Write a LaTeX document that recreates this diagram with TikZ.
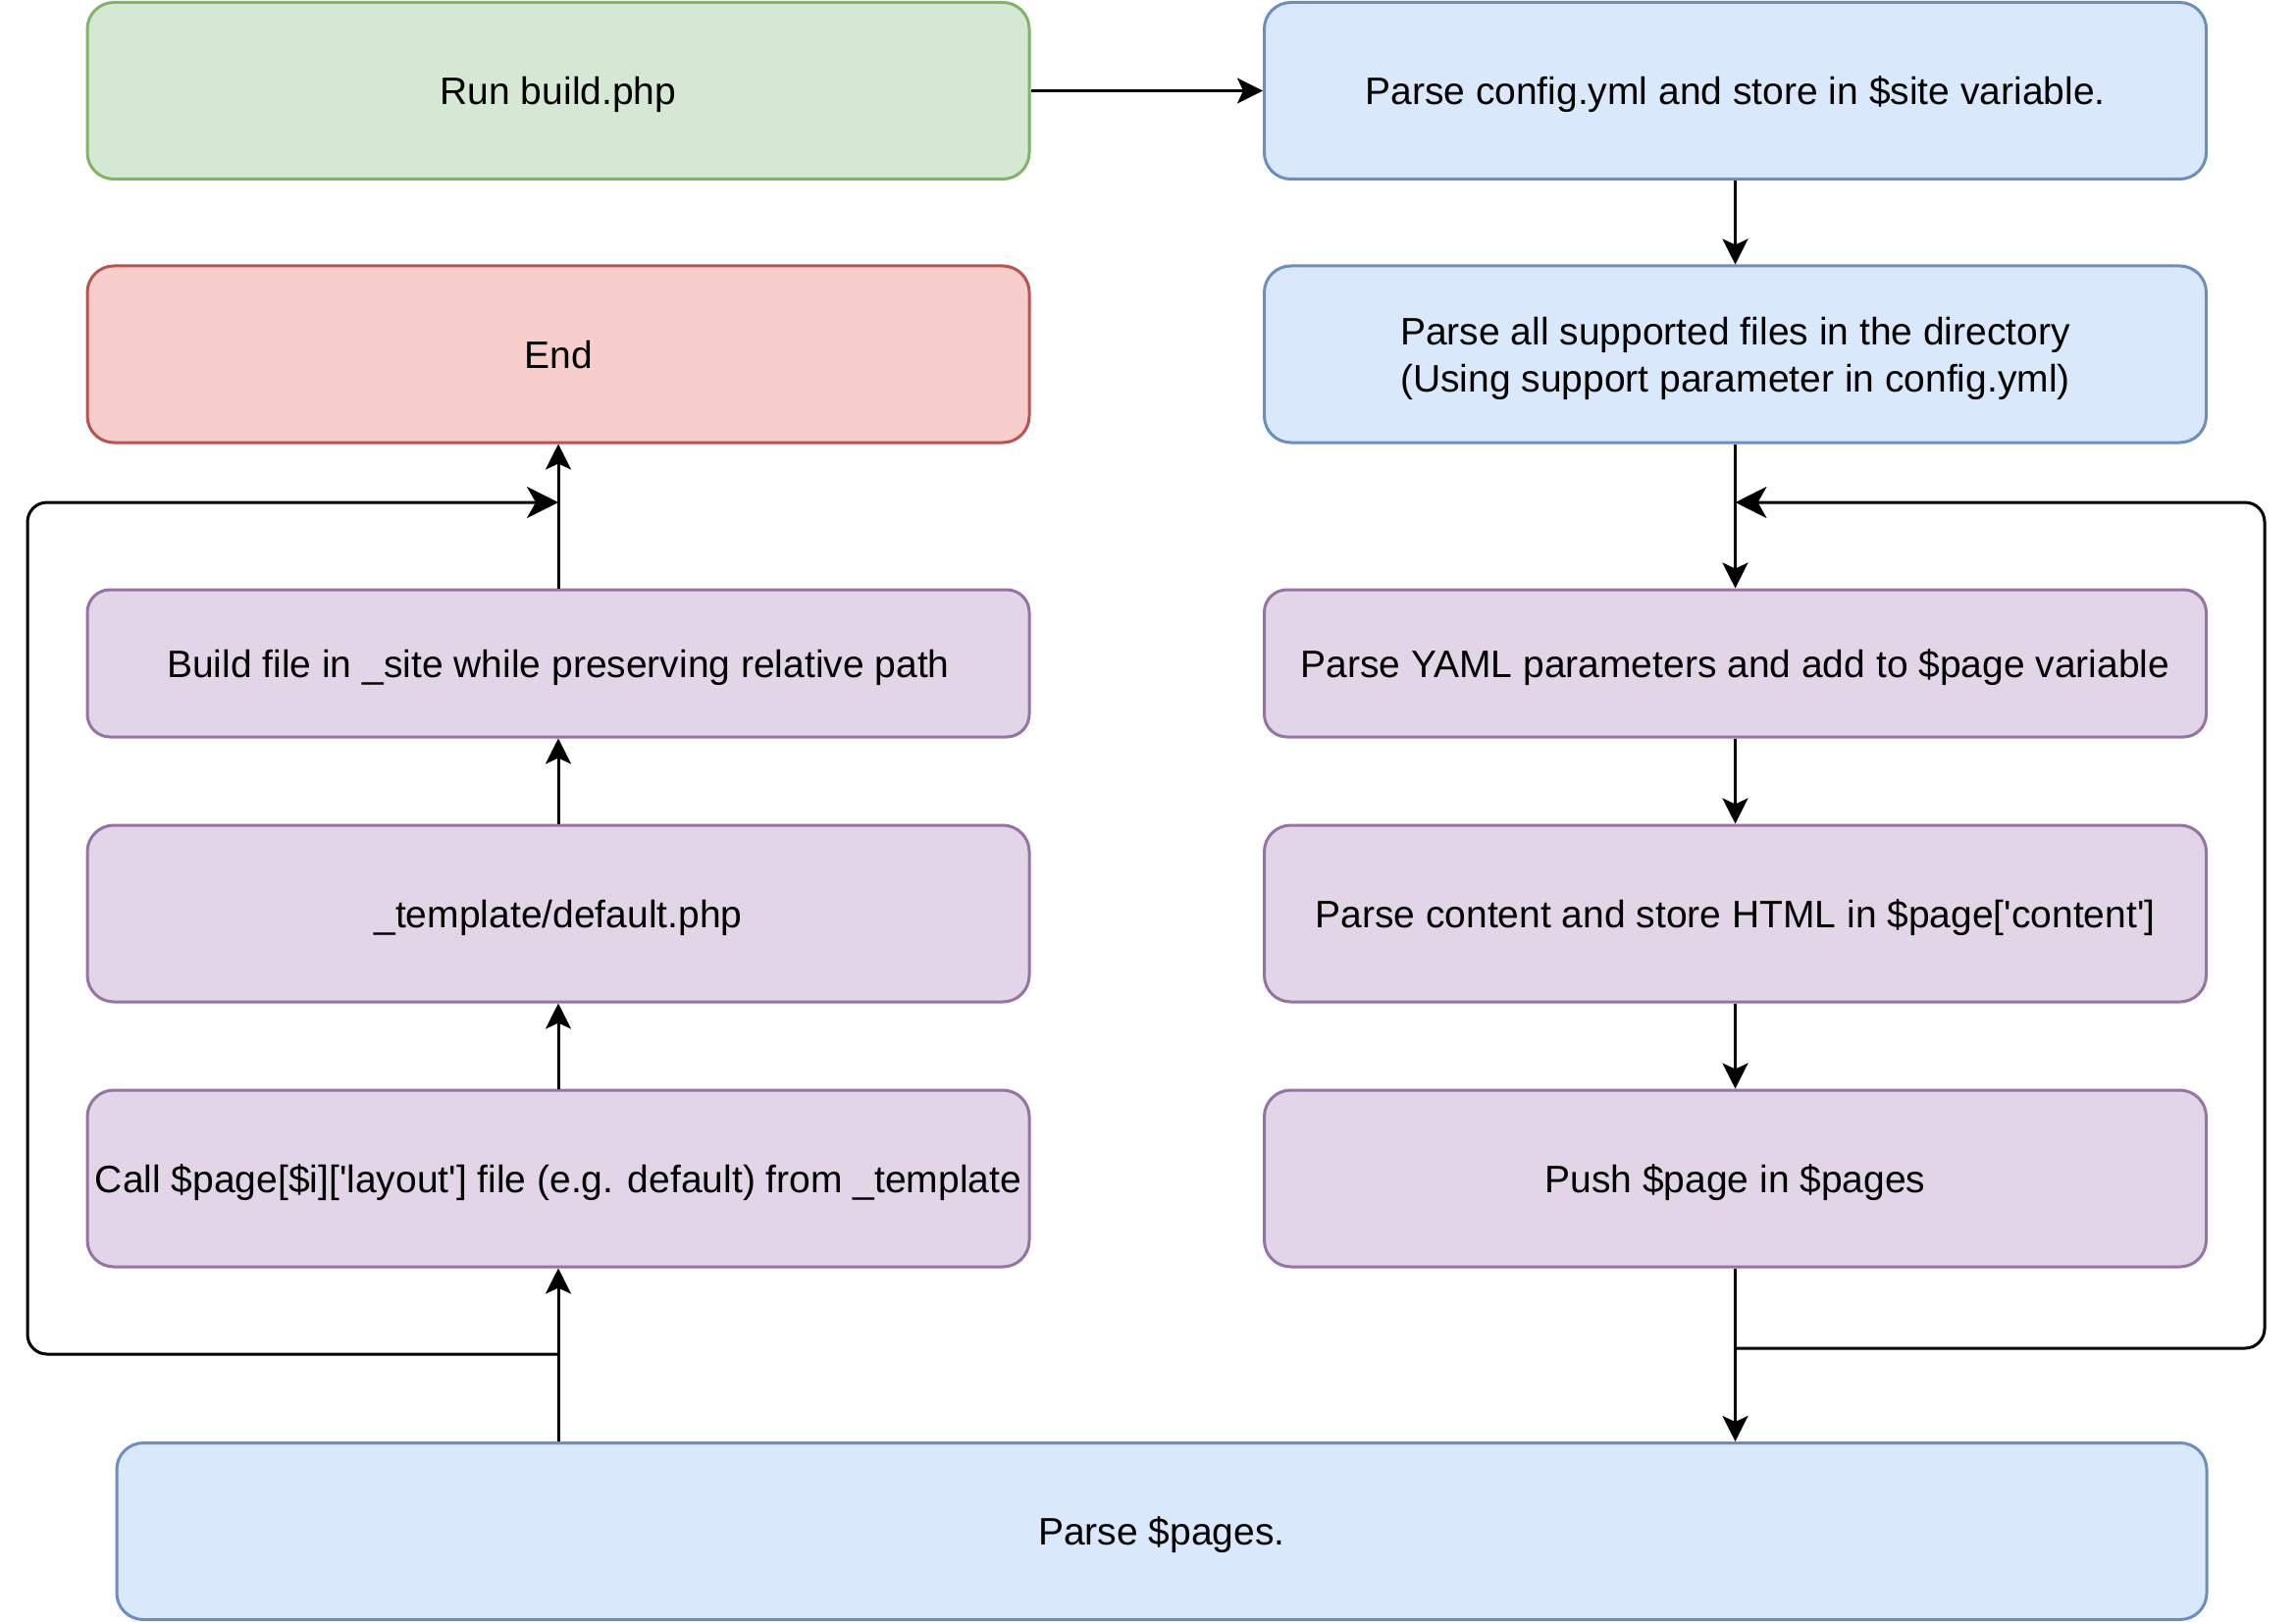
\documentclass[tikz,border=0pt]{standalone}
\usepackage{fontspec}
\setmainfont{Liberation Sans}[Ligatures=TeXOff]
\usetikzlibrary{arrows.meta}
\definecolor{gfill}{HTML}{D5E8D4}\definecolor{gline}{HTML}{82B366}
\definecolor{bfill}{HTML}{DAE8FC}\definecolor{bline}{HTML}{6C8EBF}
\definecolor{rfill}{HTML}{F8CECC}\definecolor{rline}{HTML}{B85450}
\definecolor{pfill}{HTML}{E1D5E7}\definecolor{pline}{HTML}{9673A6}
\begin{document}
\begin{tikzpicture}[x=1pt,y=-1pt,
  box/.style={rounded corners=27pt, line width=3pt, align=center, inner sep=0pt,
    minimum width=960pt, minimum height=180pt, text height=36.5pt, text depth=8pt,
    font=\fontsize{39}{48}\selectfont},
  gbox/.style={box, fill=gfill, draw=gline},
  bbox/.style={box, fill=bfill, draw=bline},
  rbox/.style={box, fill=rfill, draw=rline},
  pbox/.style={box, fill=pfill, draw=pline},
  arr/.style={line width=3pt, -{Stealth[length=26pt,width=26pt,inset=6pt]}},
  looparr/.style={line width=3pt, rounded corners=20pt, -{Stealth[length=32pt,width=32pt,inset=9pt]}}
]
\useasboundingbox (0,0) rectangle (2340,1653);
\fill[white] (0,0) rectangle (2340,1653);

\node[gbox] (run) at (569,92.5) {Run build.php};
\node[bbox] (cfg) at (1768.5,92.5) {Parse config.yml and store in \$site variable.};
\node[rbox] (end) at (569,361) {End};
\node[bbox, text height=85.5pt, text depth=8pt] (all) at (1768.5,361) {Parse all supported files in the directory\\(Using support parameter in config.yml)};
\node[pbox, minimum height=150pt, rounded corners=23pt] (build) at (569,676) {Build file in \_site while preserving relative path};
\node[pbox, minimum height=150pt, rounded corners=23pt] (yaml) at (1768.5,676) {Parse YAML parameters and add to \$page variable};
\node[pbox] (tmpl) at (569,931) {\_template/default.php};
\node[pbox] (content) at (1768.5,931) {Parse content and store HTML in \$page['content']};
\node[pbox] (call) at (569,1201) {Call \$page[\$i]['layout'] file (e.g. default) from \_template};
\node[pbox] (push) at (1768.5,1201) {Push \$page in \$pages};
\node[bbox, minimum width=2130pt] (pages) at (1184,1560.5) {Parse \$pages.};

\coordinate (lj) at (569,1380);
\coordinate (lt) at (569,512);
\coordinate (rj) at (1768.5,1374);
\coordinate (rt) at (1768.5,512);

\draw[arr] (run) -- (cfg);
\draw[arr] (cfg) -- (all);
\draw[arr] (all) -- (yaml);
\draw[arr] (yaml) -- (content);
\draw[arr] (content) -- (push);
\draw[arr] (push.south) -- (push.south |- pages.north);
\draw[arr] (call.south |- pages.north) -- (call.south);
\draw[arr] (call) -- (tmpl);
\draw[arr] (tmpl) -- (build);
\draw[arr] (build) -- (end);

\draw[looparr] (lj) -- (28,1380) -- (28,512) -- (lt);
\draw[looparr] (rj) -- (2308,1374) -- (2308,512) -- (rt);
\end{tikzpicture}
\end{document}
